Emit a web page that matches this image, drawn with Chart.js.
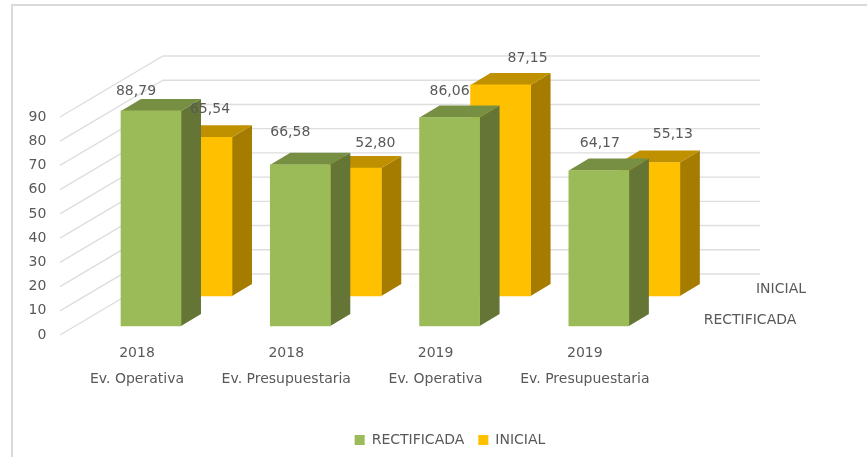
<!DOCTYPE html>
<html>
<head>
<meta charset="utf-8">
<style>html,body{margin:0;padding:0;background:#fff}canvas{display:block}</style>
<script src="https://cdn.jsdelivr.net/npm/chart.js@4"></script>
</head>
<body>
<canvas id="c" width="867" height="457"></canvas>
<script>
const categoryYears = ["2018", "2018", "2019", "2019"];
const categoryNames = ["Ev. Operativa", "Ev. Presupuestaria", "Ev. Operativa", "Ev. Presupuestaria"];
const rectificada = [88.79, 66.58, 86.06, 64.17];
const inicial = [65.54, 52.80, 87.15, 55.13];
const seriesNames = ["RECTIFICADA", "INICIAL"];
const axisMin = 0, axisMax = 90, axisStep = 10;

const FONT = '"DejaVu Sans", sans-serif';
const TEXT = '#595959', GRID = '#DEDEDE', FRAME = '#D9D9D9';
const styles = [
  {front:'#9BBB59', side:'#647535', top:'#768F43', tx:14, ty:-9,
   nudge:[[-15,-20],[-10,-32],[0,-26],[1,-27]], name:[750,320]},
  {front:'#FFC000', side:'#A67C00', top:'#BF9000', tx:65, ty:-39,
   nudge:[[8,-28],[24,-25],[27,-27],[23,-28]], name:[781,289]}
];
const DEPTH_X = 20, DEPTH_Y = -12;

const scene = {
  id:'scene',
  beforeDraw(chart){
    const c = chart.ctx;
    c.save();
    c.fillStyle='#fff'; c.fillRect(0,0,chart.width,chart.height);
    c.strokeStyle=FRAME; c.lineWidth=2;
    c.beginPath(); c.moveTo(12,chart.height); c.lineTo(12,5); c.lineTo(chart.width,5); c.stroke();
    c.restore();
  },
  beforeDatasetsDraw(chart){
    const c = chart.ctx, y = chart.scales.y;
    c.save();
    c.strokeStyle=GRID; c.lineWidth=1.4;
    y.ticks.forEach(t=>{
      const p = y.getPixelForValue(t.value);
      c.beginPath(); c.moveTo(60,p); c.lineTo(163,p-61); c.lineTo(760,p-61); c.stroke();
    });
    c.restore();
  },
  beforeDatasetDraw(chart,args){
    const s = styles[args.index], c = chart.ctx;
    c.save();
    c.translate(s.tx,s.ty);
    args.meta.data.forEach(b=>{
      const l=b.x-b.width/2, r=b.x+b.width/2;
      c.fillStyle=s.side;
      c.beginPath(); c.moveTo(r,b.y); c.lineTo(r+DEPTH_X,b.y+DEPTH_Y); c.lineTo(r+DEPTH_X,b.base+DEPTH_Y); c.lineTo(r,b.base); c.closePath(); c.fill();
      c.fillStyle=s.top;
      c.beginPath(); c.moveTo(l,b.y); c.lineTo(l+DEPTH_X,b.y+DEPTH_Y); c.lineTo(r+DEPTH_X,b.y+DEPTH_Y); c.lineTo(r,b.y); c.closePath(); c.fill();
    });
  },
  afterDatasetDraw(chart){ chart.ctx.restore(); },
  afterDatasetsDraw(chart){
    const c = chart.ctx;
    c.save();
    c.font='14px '+FONT; c.fillStyle=TEXT; c.textAlign='center'; c.textBaseline='middle';
    chart.data.datasets.forEach((d,i)=>{
      const s = styles[i], meta = chart.getDatasetMeta(i);
      meta.data.forEach((b,j)=>{
        c.fillText(d.data[j].toFixed(2).replace('.',','), b.x+s.tx+s.nudge[j][0], b.y+s.ty+s.nudge[j][1]);
      });
      c.fillText(seriesNames[i], s.name[0], s.name[1]);
    });
    c.restore();
  }
};

new Chart(document.getElementById('c'),{
  type:'bar',
  data:{
    labels: categoryYears.map((y,i)=>[y,categoryNames[i]]),
    datasets:[
      {label:seriesNames[0], data:rectificada, backgroundColor:styles[0].front, clip:false},
      {label:seriesNames[1], data:inicial, backgroundColor:styles[1].front, clip:false}
    ]
  },
  plugins:[scene],
  options:{
    responsive:false, animation:false,
    layout:{autoPadding:false, padding:{left:24,right:-9,top:117,bottom:0}},
    datasets:{bar:{grouped:false, barThickness:60}},
    plugins:{
      title:{display:false}, tooltip:{enabled:false},
      legend:{position:'bottom', labels:{boxWidth:10, boxHeight:10, padding:14, color:TEXT, font:{family:FONT,size:14}}}
    },
    scales:{
      x:{
        grid:{display:false, drawTicks:false}, border:{display:false},
        ticks:{color:TEXT, padding:5, maxRotation:0, autoSkip:false, font:{family:FONT,size:14,lineHeight:1.857}},
        afterFit(s){ s.height=84; }
      },
      y:{
        min:axisMin, max:axisMax,
        grid:{display:false, drawTicks:false}, border:{display:false},
        ticks:{stepSize:axisStep, color:TEXT, padding:16, font:{family:FONT,size:14}},
        afterFit(s){ s.width=38.35; }
      },
      pad:{
        type:'linear', position:'right', display:true,
        grid:{display:false, drawTicks:false}, border:{display:false}, ticks:{display:false},
        afterFit(s){ s.width=216.5; }
      }
    }
  }
});
</script>
</body>
</html>
